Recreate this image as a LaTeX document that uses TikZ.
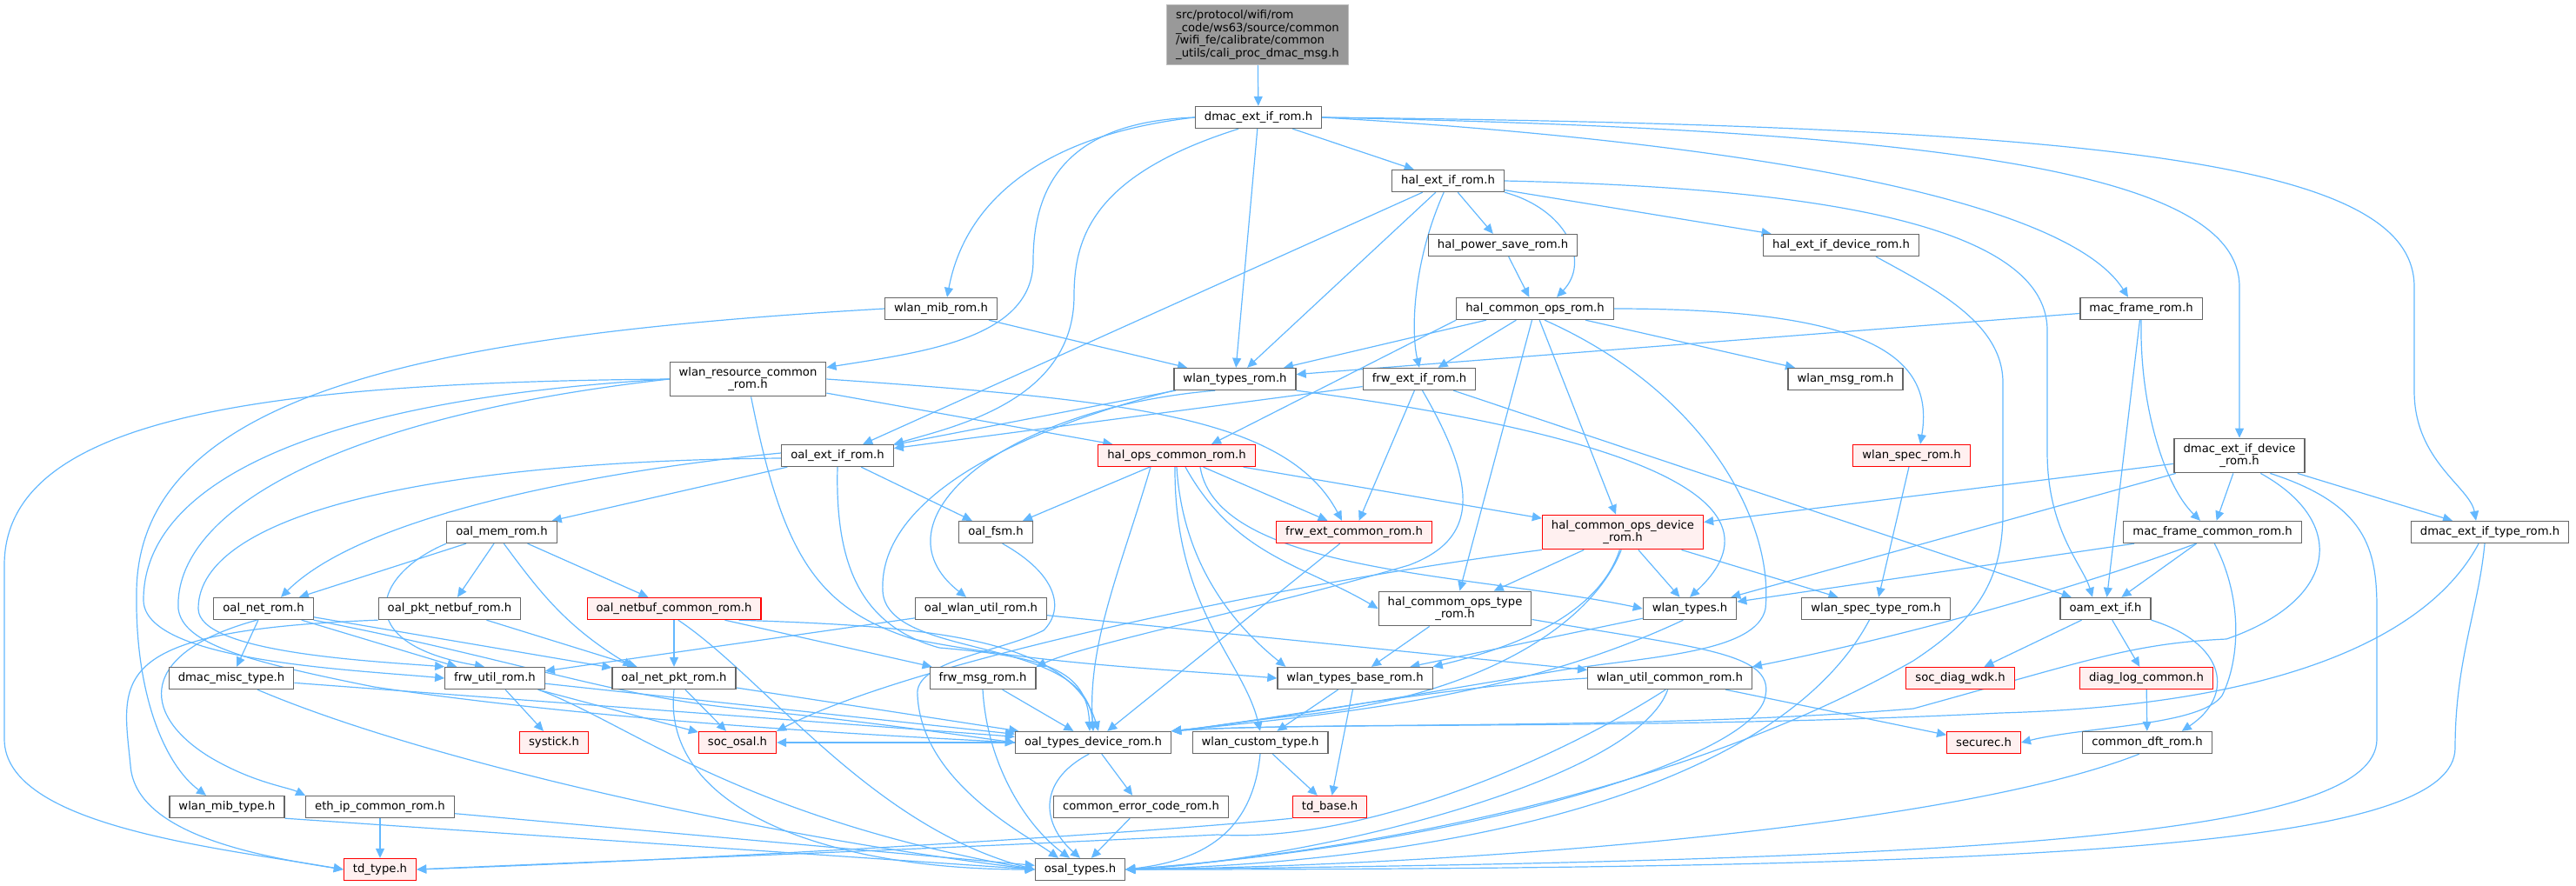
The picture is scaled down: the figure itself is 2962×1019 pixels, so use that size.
\documentclass[tikz,border=0pt]{standalone}
\usepackage{fontspec}
\setmainfont{DejaVu Sans}
\usetikzlibrary{arrows.meta, backgrounds}

\definecolor{inclblue}{HTML}{63B8FF}
\definecolor{boxline}{HTML}{666666}
\definecolor{rootfill}{HTML}{999999}
\definecolor{rootline}{HTML}{BFBFBF}
\definecolor{missfill}{HTML}{FFF0F0}
\definecolor{missline}{HTML}{FF0000}

\begin{document}
\begin{tikzpicture}[x=1pt, y=1pt]
\tikzset{
>={Triangle[length=11pt, width=10pt]},
  hfile/.style={
    rectangle,
    draw=boxline, line width=1.2pt,
    fill=white,
    font=\fontsize{13.2}{14.5}\selectfont,
    inner xsep=10.5pt, inner ysep=6pt,
    minimum height=25pt,
    align=center},
  hmissing/.style={hfile, draw=missline, fill=missfill},
  hroot/.style={hfile, draw=rootline, fill=rootfill, align=left},
  incl/.style={->, draw=inclblue, line width=1.2pt},
}
\useasboundingbox (0,0) rectangle (2962,-1019);

\node[hroot] (root) at (1446,-40) {src/protocol/wifi/rom\\\_code/ws63/source/common\\/wifi\_fe/calibrate/common\\\_utils/cali\_proc\_dmac\_msg.h};
\node[hfile] (dmac) at (1447,-135) {dmac\_ext\_if\_rom.h};
\node[hfile] (halext) at (1665,-208) {hal\_ext\_if\_rom.h};
\node[hfile] (halps) at (1728,-282) {hal\_power\_save\_rom.h};
\node[hfile] (halextdev) at (2117,-282) {hal\_ext\_if\_device\_rom.h};
\node[hfile] (halops) at (1765,-355) {hal\_common\_ops\_rom.h};
\node[hfile] (mibrom) at (1082,-355) {wlan\_mib\_rom.h};
\node[hfile] (macframe) at (2462,-355) {mac\_frame\_rom.h};
\node[hfile] (wlanres) at (860,-436) {wlan\_resource\_common\\\_rom.h};
\node[hfile] (typesrom) at (1420,-436) {wlan\_types\_rom.h};
\node[hfile] (frwext) at (1632,-436) {frw\_ext\_if\_rom.h};
\node[hfile] (wlanmsg) at (2122,-436) {wlan\_msg\_rom.h};
\node[hfile] (oalext) at (963,-524) {oal\_ext\_if\_rom.h};
\node[hmissing] (halopscommon) at (1353,-524) {hal\_ops\_common\_rom.h};
\node[hmissing] (specrom) at (2198,-524) {wlan\_spec\_rom.h};
\node[hfile] (dmacdev) at (2575,-524) {dmac\_ext\_if\_device\\\_rom.h};
\node[hfile] (oalmem) at (577,-612) {oal\_mem\_rom.h};
\node[hfile] (oalfsm) at (1145,-612) {oal\_fsm.h};
\node[hmissing] (frwcommon) at (1557,-612) {frw\_ext\_common\_rom.h};
\node[hmissing] (opsdev) at (1866,-612) {hal\_common\_ops\_device\\\_rom.h};
\node[hfile] (macframecommon) at (2544,-612) {mac\_frame\_common\_rom.h};
\node[hfile] (dmactype) at (2863,-612) {dmac\_ext\_if\_type\_rom.h};
\node[hfile] (oalnet) at (303,-700) {oal\_net\_rom.h};
\node[hfile] (pktnetbuf) at (517,-700) {oal\_pkt\_netbuf\_rom.h};
\node[hmissing] (netbufcommon) at (775,-700) {oal\_netbuf\_common\_rom.h};
\node[hfile] (wlanutil) at (1128,-700) {oal\_wlan\_util\_rom.h};
\node[hfile] (opstype) at (1673,-700) {hal\_commom\_ops\_type\\\_rom.h};
\node[hfile] (wlantypes) at (1943,-700) {wlan\_types.h};
\node[hfile] (spectype) at (2157,-700) {wlan\_spec\_type\_rom.h};
\node[hfile] (oamext) at (2421,-700) {oam\_ext\_if.h};
\node[hfile] (misctype) at (266,-780) {dmac\_misc\_type.h};
\node[hfile] (frwutil) at (569,-780) {frw\_util\_rom.h};
\node[hfile] (netpkt) at (775,-780) {oal\_net\_pkt\_rom.h};
\node[hfile] (frwmsg) at (1130,-780) {frw\_msg\_rom.h};
\node[hfile] (typesbase) at (1558,-780) {wlan\_types\_base\_rom.h};
\node[hfile] (utilcommon) at (1920,-780) {wlan\_util\_common\_rom.h};
\node[hmissing] (diagwdk) at (2254,-780) {soc\_diag\_wdk.h};
\node[hmissing] (diaglog) at (2468,-780) {diag\_log\_common.h};
\node[hmissing] (systick) at (637,-854) {systick.h};
\node[hmissing] (socosal) at (848,-854) {soc\_osal.h};
\node[hfile] (oaltypes) at (1257,-854) {oal\_types\_device\_rom.h};
\node[hfile] (customtype) at (1449,-854) {wlan\_custom\_type.h};
\node[hmissing] (securec) at (2281,-854) {securec.h};
\node[hfile] (dft) at (2469,-854) {common\_dft\_rom.h};
\node[hfile] (mibtype) at (261,-928) {wlan\_mib\_type.h};
\node[hfile] (ethip) at (437,-928) {eth\_ip\_common\_rom.h};
\node[hfile] (errcode) at (1312,-928) {common\_error\_code\_rom.h};
\node[hmissing] (tdbase) at (1529,-928) {td\_base.h};
\node[hmissing] (tdtype) at (437,-1000) {td\_type.h};
\node[hfile] (osaltypes) at (1242,-1000) {osal\_types.h};

\begin{scope}[on background layer]
\foreach \a/\b in {root/dmac, dmac/halext, dmac/typesrom,
    halext/halps, halext/halextdev, halext/typesrom, halext/oalext,
    halps/halops, halops/typesrom, halops/frwext, halops/wlanmsg, halops/opsdev, halops/opstype,
    mibrom/typesrom, macframe/typesrom, macframe/oamext, wlanres/halopscommon,
    typesrom/oalext, frwext/oalext, frwext/frwcommon, frwext/oamext,
    oalext/oalfsm, oalext/oalmem,
    halopscommon/oalfsm, halopscommon/frwcommon, halopscommon/opsdev,
    specrom/spectype,
    dmacdev/opsdev, dmacdev/wlantypes, dmacdev/macframecommon, dmacdev/dmactype,
    oalmem/oalnet, oalmem/pktnetbuf, oalmem/netbufcommon,
    frwcommon/oaltypes, opsdev/opstype, opsdev/wlantypes, opsdev/spectype,
    macframecommon/oamext, macframecommon/wlantypes,
    oalnet/misctype, oalnet/frwutil, oalnet/netpkt,
    pktnetbuf/netpkt, netbufcommon/netpkt, netbufcommon/frwmsg,
    wlanutil/frwutil, wlanutil/utilcommon,
    opstype/typesbase, wlantypes/typesbase,
    oamext/diagwdk, oamext/diaglog,
    misctype/oaltypes,
    frwutil/systick, frwutil/socosal, frwutil/oaltypes,
    netpkt/socosal, netpkt/oaltypes, frwmsg/oaltypes,
    typesbase/customtype, typesbase/tdbase,
    utilcommon/securec, diaglog/dft,
    oaltypes/errcode, oaltypes/socosal,
    customtype/tdbase, errcode/osaltypes,
    ethip/tdtype, ethip/osaltypes}
  \draw[incl] (\a) -- (\b);

\draw[incl] (dmac.west) .. controls (1200,-155) and (1110,-230) .. ([xshift=7pt]mibrom.north);
\draw[incl] (dmac.west) .. controls (1230,-140) and (1188,-210) .. (1188,-300) .. controls (1188,-390) and (1060,-405) .. ([yshift=-7pt]wlanres.north east);
\draw[incl] (dmac.-150) .. controls (1260,-200) and (1235,-270) .. (1235,-340) .. controls (1235,-460) and (1100,-490) .. (oalext.north east);
\draw[incl] (dmac.east) .. controls (1950,-160) and (2370,-220) .. ([xshift=-15pt]macframe.north);
\draw[incl] (dmac.east) .. controls (2250,-150) and (2575,-200) .. (2575,-330) -- (dmacdev.north);
\draw[incl] (dmac.east) .. controls (2450,-145) and (2776,-190) .. (2776,-330) -- (2776,-450) .. controls (2776,-530) and (2840,-560) .. ([xshift=-16pt]dmactype.north);

\draw[incl] (halext.south east) .. controls (1800,-240) and (1830,-300) .. ([xshift=25pt]halops.north);
\draw[incl] (halext.-110) .. controls (1625,-300) and (1622,-380) .. (frwext.north);
\draw[incl] (halext.east) .. controls (2050,-215) and (2354,-250) .. (2354,-380) -- (2354,-520) .. controls (2354,-610) and (2395,-650) .. ([xshift=-15pt]oamext.north);
\draw[incl] ([xshift=40pt]halextdev.south) .. controls (2220,-330) and (2303,-370) .. (2303,-440) -- (2303,-590) .. controls (2303,-680) and (2260,-720) .. (2200,-760) .. controls (1900,-930) and (1500,-985) .. (osaltypes.east);

\draw[incl] (halops.east) .. controls (2150,-355) and (2225,-410) .. ([xshift=10pt]specrom.north);
\draw[incl] (halops.south west) -- ([xshift=40pt]halopscommon.north);
\draw[incl] (halops.-50) .. controls (1960,-450) and (2040,-600) .. (2030,-700) .. controls (2020,-750) and (1900,-755) .. (1800,-770) .. controls (1650,-795) and (1450,-830) .. (oaltypes.north east);
\draw[incl] (macframe.south) .. controls (2460,-470) and (2490,-560) .. ([xshift=-14pt]macframecommon.north);

\draw[incl] (wlanres.east) .. controls (1300,-460) and (1480,-480) .. ([xshift=-14pt]frwcommon.north);
\draw[incl] (wlanres.west) .. controls (300,-440) and (5,-480) .. (5,-650) -- (5,-850) .. controls (5,-950) and (250,-975) .. (tdtype.west);
\draw[incl] (wlanres.west) .. controls (350,-460) and (165,-560) .. (165,-690) .. controls (165,-760) and (400,-770) .. (frwutil.west);
\draw[incl] (wlanres.west) .. controls (380,-480) and (200,-590) .. (205,-700) .. controls (210,-740) and (280,-760) .. (430,-790) .. controls (700,-830) and (1000,-845) .. (oaltypes.west);
\draw[incl] (wlanres.-80) .. controls (900,-640) and (940,-700) .. (1050,-735) .. controls (1200,-765) and (1350,-770) .. (typesbase.west);
\draw[incl] (mibrom.west) .. controls (500,-385) and (160,-450) .. (157,-680) .. controls (155,-800) and (190,-880) .. ([xshift=-24pt]mibtype.north);

\draw[incl] (typesrom.-150) .. controls (1150,-470) and (1000,-600) .. ([xshift=-17pt]wlanutil.north);
\draw[incl] (typesrom.south west) .. controls (1150,-500) and (1010,-580) .. (1015,-680) .. controls (1020,-760) and (1250,-730) .. (oaltypes.north);
\draw[incl] (typesrom.south east) .. controls (1800,-490) and (2080,-560) .. (wlantypes.north);
\draw[incl] (frwext.-75) .. controls (1700,-560) and (1700,-620) .. (1620,-650) .. controls (1450,-700) and (1250,-740) .. (frwmsg.north east);

\draw[incl] ([yshift=3pt]oalext.west) .. controls (700,-540) and (420,-590) .. ([xshift=20pt]oalnet.north);
\draw[incl] ([yshift=-3pt]oalext.west) .. controls (500,-530) and (228,-590) .. (228,-700) .. controls (228,-750) and (420,-760) .. (frwutil.north west);
\draw[incl] (oalext.south) .. controls (960,-650) and (990,-720) .. (1080,-745) .. controls (1200,-755) and (1250,-770) .. ([xshift=-4pt]oaltypes.north);

\draw[incl] ([xshift=27pt]halopscommon.south) .. controls (1400,-660) and (1700,-660) .. (wlantypes.west);
\draw[incl] ([xshift=10pt]halopscommon.south) .. controls (1420,-640) and (1500,-650) .. (opstype.west);
\draw[incl] ([xshift=-30pt]halopscommon.south) .. controls (1290,-650) and (1250,-740) .. (oaltypes.north);
\draw[incl] ([xshift=-2pt]halopscommon.south) .. controls (1350,-700) and (1430,-760) .. (customtype.north);
\draw[incl] (halopscommon.south) .. controls (1360,-650) and (1420,-720) .. ([xshift=10pt]typesbase.north west);

\draw[incl] (oalmem.south west) .. controls (430,-660) and (400,-740) .. ([xshift=-12pt]frwutil.north);
\draw[incl] (oalmem.-80) .. controls (620,-680) and (650,-720) .. ([xshift=24pt]netpkt.north west);
\draw[incl] (netbufcommon.-10) .. controls (1050,-720) and (1230,-730) .. ([xshift=6pt]oaltypes.north);
\draw[incl] (netbufcommon.-70) .. controls (880,-780) and (1000,-950) .. (osaltypes.west);
\draw[incl] (pktnetbuf.south west) .. controls (120,-725) and (140,-780) .. (150,-880) .. controls (155,-960) and (300,-985) .. (tdtype.west);
\draw[incl] (oalnet.-120) .. controls (160,-750) and (160,-820) .. (240,-870) .. controls (290,-900) and (330,-905) .. (ethip.north west);
\draw[incl] (oalnet.south east) .. controls (600,-760) and (700,-800) .. (850,-815) .. controls (1000,-830) and (1100,-845) .. (oaltypes.west);
\draw[incl] ([xshift=30pt]misctype.south) .. controls (500,-880) and (900,-965) .. (osaltypes.west);

\draw[incl] (opsdev.-100) .. controls (1840,-700) and (1760,-740) .. (typesbase.north east);
\draw[incl] (opsdev.-95) .. controls (1830,-720) and (1700,-800) .. (1500,-822) .. controls (1420,-830) and (1380,-838) .. (oaltypes.north east);
\draw[incl] (opsdev.south west) .. controls (1480,-670) and (1050,-760) .. (socosal.north east);
\draw[incl] (macframecommon.-80) .. controls (2580,-690) and (2575,-760) .. (2555,-800) .. controls (2530,-835) and (2400,-835) .. (securec.east);
\draw[incl] (macframecommon.-145) .. controls (2350,-690) and (2150,-740) .. (utilcommon.north east);

\draw[incl] (dmacdev.-40) .. controls (2700,-600) and (2690,-690) .. (2560,-735) .. controls (2450,-740) and (2400,-760) .. (2200,-815) .. controls (1900,-840) and (1500,-830) .. (oaltypes.north east);
\draw[incl] (dmacdev.-30) .. controls (2720,-580) and (2733,-630) .. (2733,-700) -- (2733,-850) .. controls (2733,-960) and (2300,-990) .. (osaltypes.east);
\draw[incl] ([xshift=-13pt]dmactype.south) .. controls (2800,-720) and (2650,-810) .. (2300,-820) .. controls (1900,-840) and (1500,-830) .. (oaltypes.north east);
\draw[incl] ([xshift=-6pt]dmactype.south) .. controls (2850,-700) and (2823,-760) .. (2823,-860) .. controls (2823,-970) and (2400,-1000) .. (osaltypes.east);
\draw[incl] (oamext.south east) .. controls (2560,-740) and (2570,-800) .. ([xshift=-35pt]dft.north east);

\draw[incl] (wlantypes.-120) .. controls (1750,-800) and (1550,-820) .. (oaltypes.north east);
\draw[incl] (utilcommon.west) .. controls (1650,-790) and (1450,-830) .. (oaltypes.north east);
\draw[incl] (utilcommon.-110) .. controls (1780,-880) and (1560,-970) .. (1400,-960) .. controls (1000,-980) and (700,-990) .. (tdtype.east);
\draw[incl] (utilcommon.-100) .. controls (1880,-900) and (1500,-990) .. (osaltypes.east);
\draw[incl] (spectype.-120) .. controls (2050,-900) and (1700,-990) .. (osaltypes.east);
\draw[incl] ([yshift=8pt]opstype.south east) .. controls (1950,-745) and (2040,-750) .. (2030,-800) .. controls (2020,-870) and (1700,-970) .. (osaltypes.east);
\draw[incl] (dft.-125) .. controls (2250,-950) and (1700,-995) .. (osaltypes.east);
\draw[incl] (tdbase.south west) .. controls (1350,-955) and (900,-985) .. (tdtype.east);
\draw[incl] (customtype.south) .. controls (1440,-960) and (1380,-990) .. (osaltypes.east);
\draw[incl] (oaltypes.-110) .. controls (1190,-900) and (1200,-950) .. (osaltypes.north);
\draw[incl] (frwmsg.south) .. controls (1135,-880) and (1180,-950) .. ([xshift=-12pt]osaltypes.north);
\draw[incl] (oalfsm.-60) .. controls (1215,-660) and (1225,-700) .. (1200,-725) .. controls (1150,-750) and (1050,-760) .. (1055,-800) .. controls (1060,-900) and (1180,-960) .. ([xshift=-25pt]osaltypes.north);
\draw[incl] (netpkt.south) .. controls (760,-930) and (950,-1000) .. (osaltypes.west);
\draw[incl] ([xshift=50pt]frwutil.south) .. controls (720,-830) and (850,-940) .. (osaltypes.west);
\draw[incl] (mibtype.south east) -- (osaltypes.west);
\end{scope}
\end{tikzpicture}
\end{document}
